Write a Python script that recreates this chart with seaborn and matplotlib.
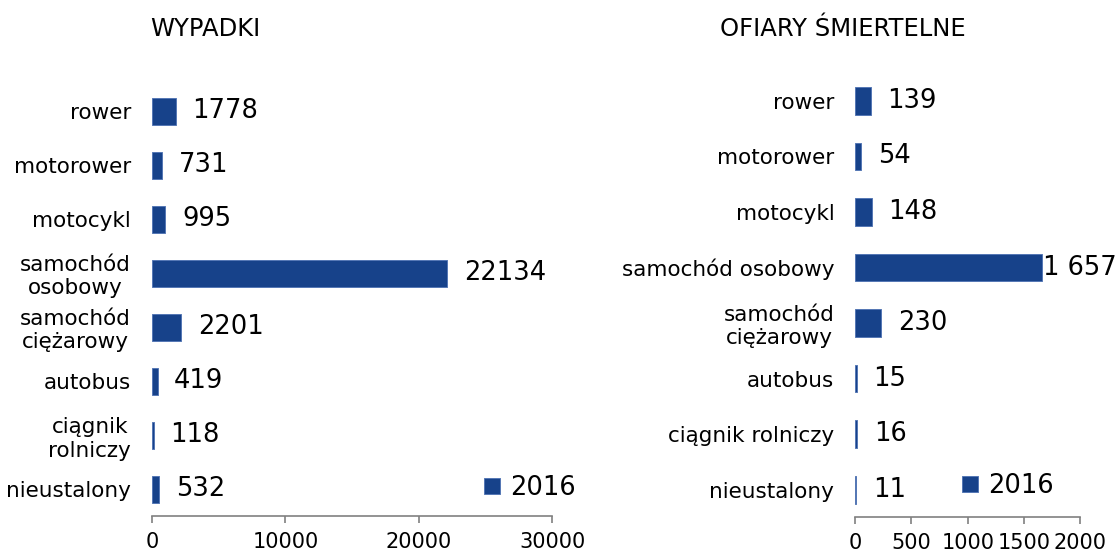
import pandas as pd
import numpy as np
import seaborn as sns
import matplotlib.pyplot as plt

# data
cat_left = ["rower", "motorower", "motocykl", "samochód\nosobowy", "samochód\nciężarowy",
            "autobus", "ciągnik\nrolniczy", "nieustalony"]
wypadki = [1778, 731, 995, 22134, 2201, 419, 118, 532]
wypadki_labels = ["1778", "731", "995", "22134", "2201", "419", "118", "532"]

cat_right = ["rower", "motorower", "motocykl", "samochód osobowy", "samochód\nciężarowy",
             "autobus", "ciągnik rolniczy", "nieustalony"]
ofiary = [139, 54, 148, 1657, 230, 15, 16, 11]
ofiary_labels = ["139", "54", "148", "1 657", "230", "15", "16", "11"]

year = "2016"
left_ticks = [0, 10000, 20000, 30000]
right_ticks = [0, 500, 1000, 1500, 2000]

bar_color = "#17428a"
edge_color = "#5577b5"

sns.set_style("white")
plt.rcParams['font.family'] = ['DejaVu Sans']
plt.rcParams['text.color'] = 'black'
plt.rcParams['xtick.labelcolor'] = 'black'
plt.rcParams['ytick.labelcolor'] = 'black'

fig = plt.figure(figsize=(11.15, 5.54), dpi=100)
ax1 = fig.add_axes([0.1363, 0.068, 0.359, 0.780])
ax2 = fig.add_axes([0.767, 0.066, 0.2018, 0.802])


def draw(ax, cats, vals, labels, ticks, xmax, legend_x, legend_y, tight_idx=None):
    df = pd.DataFrame({"kat": cats, "val": vals, "rok": year})
    sns.barplot(data=df, y="kat", x="val", hue="rok", palette=[bar_color], dodge=False,
                saturation=1, width=0.5, edgecolor=edge_color, linewidth=0.7,
                orient="h", ax=ax)
    ax.set_xlim(0, xmax)
    ax.set_xticks(ticks)
    ax.set_xlabel("")
    ax.set_ylabel("")
    for s in ["top", "right", "left"]:
        ax.spines[s].set_visible(False)
    ax.spines["bottom"].set_color("#808080")
    ax.spines["bottom"].set_linewidth(1.2)
    ax.tick_params(axis="x", direction="out", length=5, color="#808080", width=1.2,
                   labelsize=15, pad=6, bottom=True)
    ax.tick_params(axis="y", length=0, labelsize=15.5, pad=15)
    for t in ax.get_yticklabels():
        t.set_multialignment("center")
    for i, (v, lab) in enumerate(zip(vals, labels)):
        off = 1 if i == tight_idx else 12
        ax.annotate(lab, (v, i), xytext=(off, 0), textcoords="offset points",
                    va="center", ha="left", fontsize=18.5)
    ax.legend(loc="center left", bbox_to_anchor=(legend_x, legend_y), frameon=False,
              fontsize=18.5, handlelength=0.6, handleheight=0.6, handletextpad=0.4,
              borderpad=0, borderaxespad=0)


draw(ax1, cat_left, wypadki, wypadki_labels, left_ticks, 30000, 0.83, 0.065)
draw(ax2, cat_right, ofiary, ofiary_labels, right_ticks, 2000, 0.476, 0.07, tight_idx=3)

fig.text(0.184, 0.948, "WYPADKI", ha="center", va="center", fontsize=17.5)
fig.text(0.756, 0.948, "OFIARY ŚMIERTELNE", ha="center", va="center", fontsize=17.5)

fig.savefig("out.png", dpi=100)
